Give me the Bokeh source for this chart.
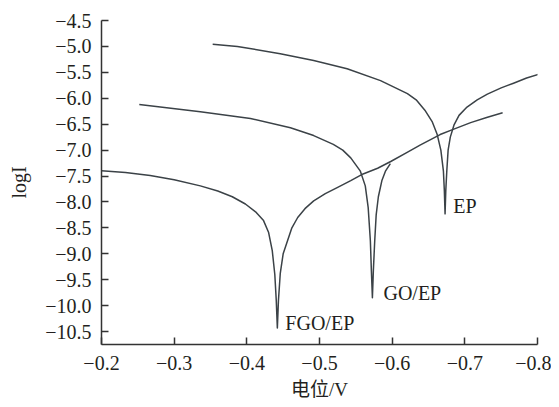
from bokeh.plotting import figure
from bokeh.models import FixedTicker, Label, Range1d
from bokeh.embed import file_html
from bokeh.resources import INLINE

# ---- data ----
ep_x = [-0.353, -0.387, -0.446, -0.492, -0.538, -0.584, -0.621, -0.633, -0.645, -0.655,
        -0.662, -0.667, -0.6705, -0.6718, -0.6728,
        -0.6738, -0.6752, -0.677, -0.680, -0.685, -0.692, -0.703, -0.717, -0.731, -0.750,
        -0.767, -0.785, -0.801]
ep_y = [-4.96, -5.00, -5.14, -5.27, -5.43, -5.66, -5.91, -6.03, -6.23, -6.45,
        -6.70, -7.00, -7.40, -7.78, -8.23,
        -7.78, -7.40, -7.00, -6.75, -6.52, -6.33, -6.17, -6.03, -5.92, -5.80,
        -5.71, -5.61, -5.54]

go_x = [-0.252, -0.336, -0.405, -0.460, -0.492, -0.519, -0.532, -0.543, -0.556, -0.563,
        -0.567, -0.570, -0.5714, -0.5728,
        -0.5741, -0.5760, -0.578, -0.581, -0.586, -0.591, -0.5975]
go_y = [-6.12, -6.26, -6.39, -6.57, -6.72, -6.89, -7.00, -7.15, -7.40, -7.69,
        -8.11, -8.75, -9.33, -9.85,
        -9.33, -8.75, -8.25, -7.90, -7.58, -7.40, -7.26]

fgo_x = [-0.200, -0.233, -0.267, -0.300, -0.336, -0.360, -0.380, -0.398, -0.412, -0.423,
         -0.430, -0.435, -0.4385, -0.4405, -0.442,
         -0.4435, -0.446, -0.450, -0.456, -0.462, -0.470, -0.480, -0.492, -0.508, -0.525,
         -0.543, -0.560, -0.580, -0.598, -0.620, -0.639, -0.666, -0.684, -0.708, -0.730,
         -0.752]
fgo_y = [-7.40, -7.43, -7.49, -7.57, -7.69, -7.79, -7.90, -8.04, -8.19, -8.36,
         -8.59, -8.94, -9.40, -9.90, -10.43,
         -9.90, -9.38, -9.00, -8.75, -8.50, -8.30, -8.13, -7.98, -7.84, -7.72,
         -7.59, -7.46, -7.35, -7.22, -7.05, -6.90, -6.70, -6.60, -6.47, -6.37,
         -6.28]

series_names = ["EP", "GO/EP", "FGO/EP"]
label_x = [-0.684, -0.588, -0.453]
label_y = [-8.07, -9.75, -10.33]

x_ticks = [-0.2, -0.3, -0.4, -0.5, -0.6, -0.7, -0.8]
x_tick_labels = ["\u22120.2", "\u22120.3", "\u22120.4", "\u22120.5", "\u22120.6", "\u22120.7", "\u22120.8"]
y_ticks = [-10.5, -10.0, -9.5, -9.0, -8.5, -8.0, -7.5, -7.0, -6.5, -6.0, -5.5, -5.0, -4.5]
y_tick_labels = ["\u221210.5", "\u221210.0", "\u22129.5", "\u22129.0", "\u22128.5", "\u22128.0",
                 "\u22127.5", "\u22127.0", "\u22126.5", "\u22126.0", "\u22125.5", "\u22125.0", "\u22124.5"]

FONT = "Liberation Serif"
LINE = "#3b4247"
TXT = "#231f20"

p = figure(width=551, height=399, output_backend="svg", toolbar_location=None,
           x_range=Range1d(-0.2, -0.8), y_range=Range1d(-10.75, -4.5),
           min_border_left=101, min_border_right=14, min_border_top=20, min_border_bottom=55)
p.frame_width = 436
p.frame_height = 324
p.outline_line_color = None
p.xgrid.visible = False
p.ygrid.visible = False
p.background_fill_color = "white"
p.border_fill_color = "white"

for xs, ys in [(ep_x, ep_y), (go_x, go_y), (fgo_x, fgo_y)]:
    p.line(xs, ys, line_color=LINE, line_width=1.5, line_join="round")

for name, lx, ly in zip(series_names, label_x, label_y):
    p.add_layout(Label(x=lx, y=ly, text=name, text_font=FONT, text_font_size="20px",
                       text_color=TXT, text_align="left", text_baseline="middle"))

for ax in (p.xaxis[0], p.yaxis[0]):
    ax.axis_line_color = "#333333"
    ax.axis_line_width = 1.5
    ax.major_tick_line_color = "#333333"
    ax.major_tick_line_width = 1.5
    ax.major_tick_in = 7
    ax.major_tick_out = 0
    ax.minor_tick_line_color = None
    ax.major_label_text_font = FONT
    ax.major_label_text_font_size = "20px"
    ax.major_label_text_color = TXT
    ax.axis_label_text_font = FONT
    ax.axis_label_text_font_size = "20px"
    ax.axis_label_text_font_style = "normal"
    ax.axis_label_text_color = TXT

p.xaxis[0].ticker = FixedTicker(ticks=x_ticks)
p.xaxis[0].major_label_overrides = {t: s for t, s in zip(x_ticks, x_tick_labels)}
p.xaxis[0].major_label_standoff = 11
p.xaxis[0].axis_label = "电位/V"
p.xaxis[0].axis_label_text_font = "Liberation Serif, Noto Sans CJK SC"
p.xaxis[0].axis_label_text_font_size = "19px"
p.xaxis[0].axis_label_standoff = 6

p.yaxis[0].ticker = FixedTicker(ticks=y_ticks)
p.yaxis[0].major_label_overrides = {t: s for t, s in zip(y_ticks, y_tick_labels)}
p.yaxis[0].major_label_standoff = 10
p.yaxis[0].axis_label = "logI"
p.yaxis[0].axis_label_standoff = 12

open("out.html", "w").write(file_html(p, INLINE))
